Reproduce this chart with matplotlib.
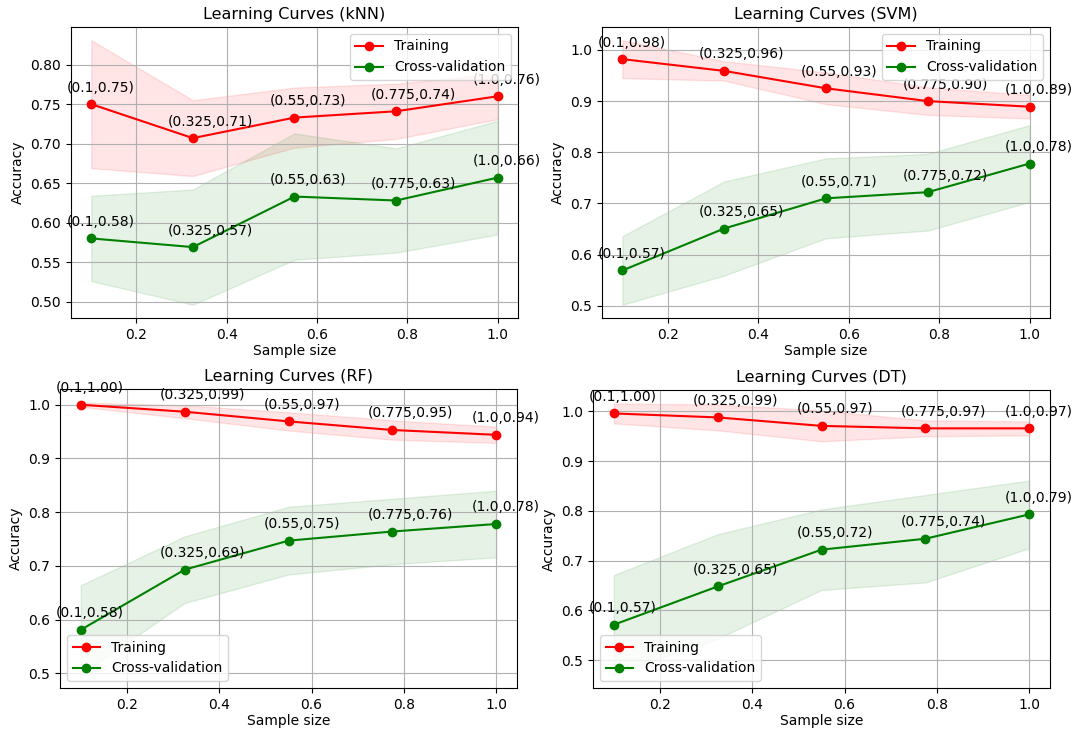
import matplotlib
matplotlib.use("Agg")
import matplotlib.pyplot as plt
import numpy as np

sizes = [0.1, 0.325, 0.55, 0.775, 1.0]
models = ["kNN", "SVM", "RF", "DT"]

knn_train = [0.750, 0.707, 0.733, 0.741, 0.760]
knn_train_std = [0.081, 0.048, 0.038, 0.035, 0.029]
knn_cv = [0.580, 0.569, 0.633, 0.628, 0.657]
knn_cv_std = [0.054, 0.073, 0.080, 0.066, 0.072]

svm_train = [0.982, 0.959, 0.925, 0.900, 0.889]
svm_train_std = [0.037, 0.019, 0.031, 0.027, 0.023]
svm_cv = [0.569, 0.651, 0.710, 0.722, 0.778]
svm_cv_std = [0.067, 0.092, 0.078, 0.075, 0.075]

rf_train = [1.000, 0.987, 0.969, 0.953, 0.944]
rf_train_std = [0.004, 0.012, 0.017, 0.018, 0.015]
rf_cv = [0.581, 0.693, 0.747, 0.764, 0.778]
rf_cv_std = [0.083, 0.062, 0.063, 0.061, 0.062]

dt_train = [0.996, 0.988, 0.971, 0.966, 0.966]
dt_train_std = [0.020, 0.026, 0.031, 0.016, 0.014]
dt_cv = [0.571, 0.648, 0.722, 0.744, 0.793]
dt_cv_std = [0.100, 0.105, 0.081, 0.088, 0.068]

train_means = [knn_train, svm_train, rf_train, dt_train]
train_stds = [knn_train_std, svm_train_std, rf_train_std, dt_train_std]
cv_means = [knn_cv, svm_cv, rf_cv, dt_cv]
cv_stds = [knn_cv_std, svm_cv_std, rf_cv_std, dt_cv_std]
legend_locs = ["upper right", "upper right", "lower left", "lower left"]

# axes boxes in figure fractions (the panels were separate figures)
boxes = [
    [0.0662, 0.5662, 0.4170, 0.3970],
    [0.5616, 0.5662, 0.4179, 0.3970],
    [0.0560, 0.0614, 0.4263, 0.4079],
    [0.5532, 0.0614, 0.4263, 0.4066],
]

fig = plt.figure(figsize=(10.72, 7.33), dpi=100)

for i, name in enumerate(models):
    ax = fig.add_axes(boxes[i])
    x = np.array(sizes)
    tr = np.array(train_means[i])
    trs = np.array(train_stds[i])
    cv = np.array(cv_means[i])
    cvs = np.array(cv_stds[i])

    ax.grid(True)
    ax.fill_between(x, tr - trs, tr + trs, alpha=0.1, color="r")
    ax.fill_between(x, cv - cvs, cv + cvs, alpha=0.1, color="g")
    ax.plot(x, tr, "o-", color="r", label="Training")
    ax.plot(x, cv, "o-", color="g", label="Cross-validation")

    for xs, ys in zip(sizes, tr):
        ax.annotate(f"({xs},{ys:.2f})", (xs, ys), textcoords="offset points",
                    xytext=(-18, 9), fontsize=10)
    for xs, ys in zip(sizes, cv):
        ax.annotate(f"({xs},{ys:.2f})", (xs, ys), textcoords="offset points",
                    xytext=(-18, 9), fontsize=10)

    ax.set_title(f"Learning Curves ({name})", fontsize=11.5)
    ax.set_xlabel("Sample size", fontsize=10, labelpad=2)
    ax.set_ylabel("Accuracy", fontsize=10)
    ax.tick_params(labelsize=10)
    ax.legend(loc=legend_locs[i], fontsize=10)

fig.savefig("out.png", dpi=100)
